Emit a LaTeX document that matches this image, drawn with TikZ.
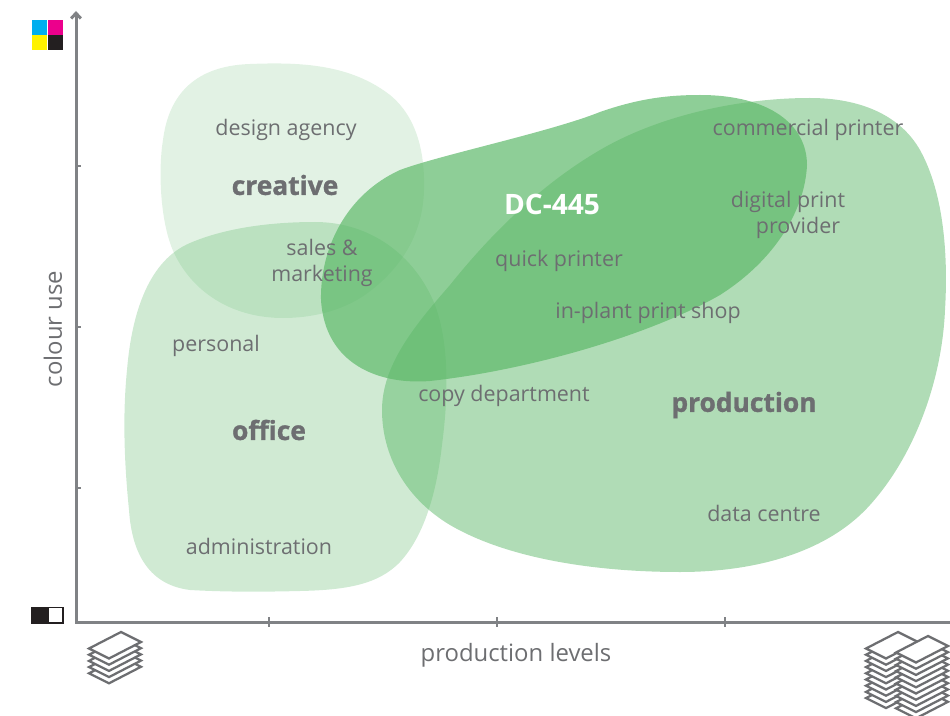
\documentclass[tikz,border=0pt]{standalone}
\usepackage{fontspec}
\setmainfont{Open Sans}
\newfontface\heavyfont[FakeBold=1.2]{Open Sans Bold}
\usepackage{tikz}
\usetikzlibrary{arrows.meta,calc}
\definecolor{blobgreen}{HTML}{5CB868}
\definecolor{inkgray}{HTML}{6D6E71}
\definecolor{axisgray}{HTML}{808285}
\definecolor{markblack}{HTML}{231F20}
\tikzset{
  x=0.02cm, y=-0.02cm,
  blob/.style={fill=blobgreen, draw=none},
  lbl/.style={text=inkgray, font=\fontsize{12.2}{15}\selectfont, align=center, inner sep=0pt},
  grouplbl/.style={text=inkgray, font=\fontsize{15}{17}\heavyfont, inner sep=0pt},
  axislbl/.style={text=inkgray, font=\fontsize{13.6}{15}\selectfont, inner sep=0pt},
  axisline/.style={draw=axisgray, line width=0.06cm},
  tickmark/.style={draw=axisgray, line width=0.03cm},
  sheet/.style={draw=inkgray, fill=white, line width=0.045cm, line join=miter},
  swatch/.style={draw=none},
}
\newcommand{\paperstack}[3]{% top corner x, y, sheets below the top one
  \foreach \k in {#3,...,0}
    \draw[sheet] ($(#1,#2)+(0,6.2*\k)$) -- ++(20,10) -- ++(-32,16.5) -- ++(-20,-10) -- cycle;
}
\begin{document}
\begin{tikzpicture}
  \useasboundingbox (0,0) rectangle (950,716);

  % blobs
  \fill[blob, fill opacity=0.485] (810,98) .. controls (860,98) and (900,115) .. (920,150) .. controls (945,195) and (948,260) .. (945,310) .. controls (942,380) and (915,455) .. (870,505) .. controls (825,555) and (750,572) .. (680,572) .. controls (600,572) and (510,560) .. (450,525) .. controls (405,498) and (382,455) .. (382,410) .. controls (382,365) and (415,325) .. (450,285) .. controls (490,235) and (540,185) .. (600,150) .. controls (660,115) and (740,98) .. (810,98) -- cycle;
  \fill[blob, fill opacity=0.29] (315,222) .. controls (370,222) and (415,255) .. (435,305) .. controls (450,345) and (448,400) .. (442,445) .. controls (437,490) and (425,535) .. (400,562) .. controls (378,585) and (345,590) .. (300,591) .. controls (260,592) and (225,592) .. (190,590) .. controls (150,585) and (132,555) .. (129,510) .. controls (125,470) and (122,420) .. (127,370) .. controls (132,310) and (150,260) .. (190,243) .. controls (225,228) and (270,222) .. (315,222) -- cycle;
  \fill[blob, fill opacity=0.18] (250,64) .. controls (300,62) and (350,64) .. (390,95) .. controls (418,118) and (425,155) .. (424,190) .. controls (423,235) and (400,270) .. (365,295) .. controls (340,312) and (310,318) .. (283,318) .. controls (235,318) and (195,295) .. (175,255) .. controls (160,225) and (158,170) .. (163,140) .. controls (168,100) and (190,66) .. (250,64) -- cycle;
  \fill[blob, fill opacity=0.69] (700,95) .. controls (770,95) and (807,125) .. (807,165) .. controls (805,210) and (775,260) .. (720,295) .. controls (650,335) and (530,370) .. (430,381) .. controls (380,385) and (325,365) .. (321,300) .. controls (320,250) and (345,195) .. (400,170) .. controls (440,155) and (550,132) .. (600,112) .. controls (640,98) and (670,95) .. (700,95) -- cycle;

  % axes
  \coordinate (origin) at (76,622);
  \coordinate (ytop) at (76,11);
  \coordinate (xend) at (950,622);
  \draw[axisline, {Straight Barb[length=3pt,width=5.5pt]}-] (ytop) -- (origin) -- (xend);
  \foreach \y in {166,327,488} \draw[tickmark] (76,\y) -- (81,\y);
  \foreach \x in {269,497,725} \draw[tickmark] (\x,617) -- (\x,627);

  % colour marks
  \fill[swatch, fill={rgb,255:red,0;green,174;blue,239}] (32,20) rectangle (47,35);
  \fill[swatch, fill={rgb,255:red,236;green,0;blue,140}] (48,20) rectangle (63,35);
  \fill[swatch, fill={rgb,255:red,255;green,242;blue,0}] (32,35) rectangle (47,50);
  \fill[swatch, fill=markblack] (48,35) rectangle (63,50);
  \fill[swatch, fill=markblack] (31,606.5) rectangle (48,624);
  \draw[draw=markblack, line width=0.035cm, fill=white] (48,607.5) rectangle (63,623);

  % paper stacks
  \paperstack{121}{632}{4}
  \paperstack{898}{632}{8}
  \paperstack{928}{636}{9}

  % labels
  \node[lbl] (agency) at (286,129.5) {design agency};
  \node[lbl] (sales) at (322,263) {sales \&\\marketing};
  \node[lbl] (personal) at (216,345.5) {personal};
  \node[lbl] (admin) at (259,546) {administration};
  \node[lbl] (quick) at (559,260.5) {quick printer};
  \node[lbl] (inplant) at (648,312.5) {in-plant print shop};
  \node[lbl] (copy) at (504,395.5) {copy department};
  \node[lbl] (commercial) at (808,129.5) {commercial printer};
  \node[lbl] (provider) at (788,215) {digital print\\\hspace*{0.4cm}provider};
  \node[lbl] (data) at (764,513) {data centre};
  \node[grouplbl] (creative) at (285,185) {creative};
  \node[grouplbl] (office) at (269,430) {office};
  \node[grouplbl] (production) at (744,405) {production};
  \node[text=white, font=\fontsize{16}{19}\selectfont\bfseries, inner sep=0pt] (dc) at (552,204) {DC-445};
  \node[axislbl] (xlabel) at (516,655) {production levels};
  \node[axislbl, rotate=90] (ylabel) at (53,329) {colour use};
\end{tikzpicture}
\end{document}
